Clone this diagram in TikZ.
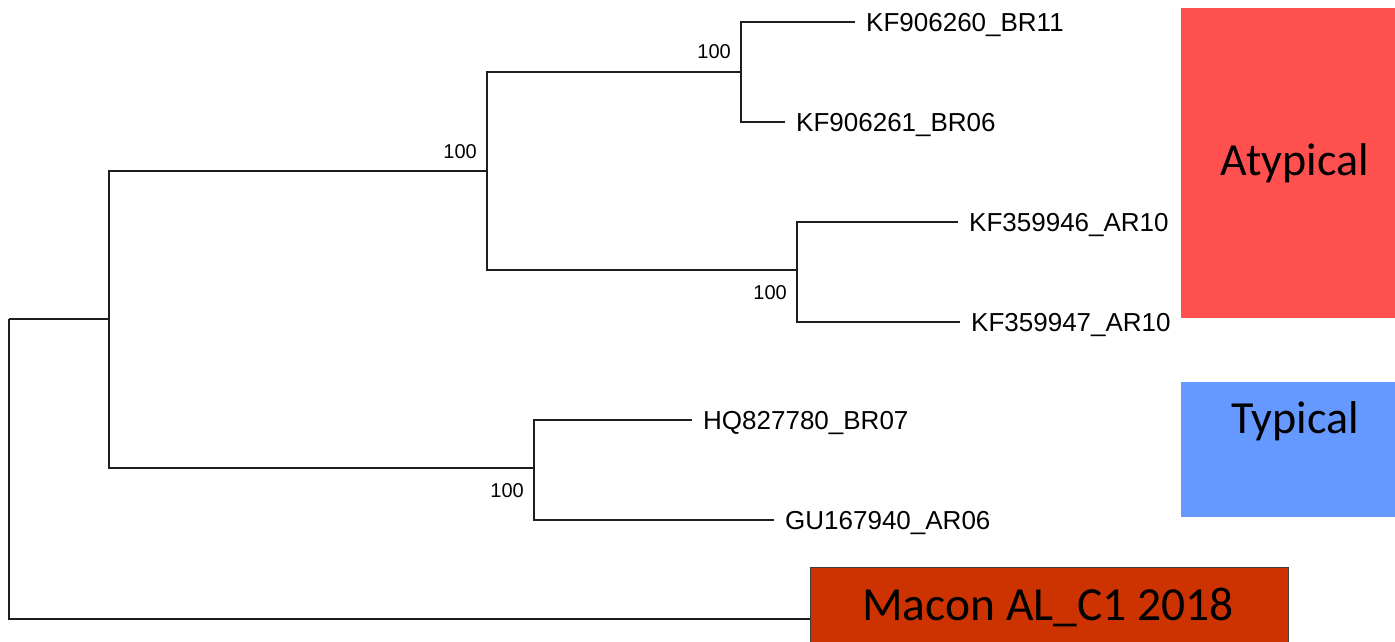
\documentclass[tikz,border=0pt]{standalone}
\usepackage{fontspec}
\setmainfont{Liberation Sans}
\newfontfamily\calib{Carlito}
\definecolor{treeline}{HTML}{1E1E1E}
\definecolor{atypred}{HTML}{FF5050}
\definecolor{typblue}{HTML}{6699FF}
\definecolor{maconred}{HTML}{CC3300}
\begin{document}
\begin{tikzpicture}[x=1pt,y=-1pt,
  branch/.style={draw=treeline,line width=1.5pt},
  leaf/.style={anchor=west,inner xsep=11pt,inner ysep=0pt,text height=18.6pt,text depth=0pt,font=\fontsize{26}{28}\selectfont,text=black},
  boot/.style={anchor=east,inner sep=0pt,font=\fontsize{20}{22}\selectfont},
  groupbox/.style={draw=none,inner sep=0pt,anchor=north west},
  grouptext/.style={inner sep=0pt,font=\calib\fontsize{46}{50}\selectfont},
]
\useasboundingbox (0,0) rectangle (1395,642);
% group boxes
\node[groupbox,fill=atypred,minimum width=214pt,minimum height=310pt] (atypbox) at (1181,8) {};
\node[grouptext] (atyptext) at (1295,163) {Atypical};
\node[groupbox,fill=typblue,minimum width=214pt,minimum height=135pt] (typbox) at (1181,382) {};
\node[grouptext] (typtext) at (1295,421) {Typical};
\node[draw=black!75,line width=0.8pt,fill=maconred,minimum width=478pt,minimum height=104pt,inner sep=0pt] (macon) at (1049,619) {};
\node[grouptext,font=\calib\fontsize{47.5}{50}\selectfont] (macontext) at (1048,607) {Macon AL\_C1 2018};
% internal nodes
\coordinate (R) at (9,319);
\coordinate (A) at (109,319);
\coordinate (B) at (487,171);
\coordinate (C) at (741,72);
\coordinate (D) at (797,270);
\coordinate (E) at (534,468);
% leaves
\node[leaf] (l1) at (855,22) {KF906260\_BR11};
\node[leaf] (l2) at (785,122) {KF906261\_BR06};
\node[leaf] (l3) at (958,222) {KF359946\_AR10};
\node[leaf] (l4) at (960,322) {KF359947\_AR10};
\node[leaf] (l5) at (692,420) {HQ827780\_BR07};
\node[leaf] (l6) at (774,520) {GU167940\_AR06};
% branches
\draw[branch] (R) -- (A);
\draw[branch] (R) |- (macon.west);
\draw[branch] (A) |- (B);
\draw[branch] (A) |- (E);
\draw[branch] (B) |- (C);
\draw[branch] (B) |- (D);
\draw[branch] (C) |- (l1.west);
\draw[branch] (C) |- (l2.west);
\draw[branch] (D) |- (l3.west);
\draw[branch] (D) |- (l4.west);
\draw[branch] (E) |- (l5.west);
\draw[branch] (E) |- (l6.west);
% bootstrap values
\node[boot] (bB) at (477,152) {100};
\node[boot] (bC) at (731,52) {100};
\node[boot] (bD) at (787,293) {100};
\node[boot] (bE) at (524,491) {100};
\end{tikzpicture}
\end{document}
